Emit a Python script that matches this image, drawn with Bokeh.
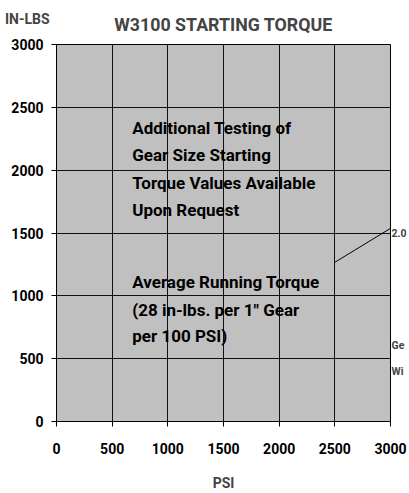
from bokeh.plotting import figure
from bokeh.models import FixedTicker, Range1d, LinearAxis
from bokeh.core.properties import value
from bokeh.embed import file_html
from bokeh.resources import INLINE

# ---- data ----
x_ticks = [0, 500, 1000, 1500, 2000, 2500, 3000]
y_ticks = [0, 500, 1000, 1500, 2000, 2500, 3000]

title_text = "W3100 STARTING TORQUE"
y_unit_text = "IN-LBS"
x_unit_text = "PSI"

note_lines = ["Additional Testing of", "Gear Size Starting", "Torque Values Available",
              "Upon Request", "Average Running Torque", "(28 in-lbs. per 1\" Gear",
              "per 100 PSI)"]
note_x = [680, 680, 680, 680, 680, 680, 680]
note_y = [2334, 2119, 1898, 1684, 1113, 891, 677]

leader_x = [2500, 3000]
leader_y = [1267, 1537]

side_texts = ["2.0", "Ge", "Wi"]
side_y = [1495, 602, 394]

FONT = "Roboto"

p = figure(width=409, height=493, output_backend="svg", toolbar_location=None,
           x_range=Range1d(0, 3000), y_range=Range1d(0, 3000),
           min_border_left=56, min_border_right=18, min_border_top=44, min_border_bottom=70)
p.background_fill_color = "#C0C0C0"
p.border_fill_color = "white"
p.outline_line_color = "black"

for ax in (p.xaxis[0], p.yaxis[0]):
    ax.major_label_text_font = FONT
    ax.major_label_text_font_style = "bold"
    ax.major_label_text_font_size = "14px"
    ax.major_label_text_color = "black"
    ax.axis_line_color = "black"
    ax.major_tick_line_color = "black"
    ax.major_tick_in = 0
    ax.major_tick_out = 5
    ax.minor_tick_line_color = None
p.xaxis.ticker = FixedTicker(ticks=x_ticks)
p.yaxis.ticker = FixedTicker(ticks=y_ticks)
p.xaxis.major_label_standoff = 16
p.yaxis.major_label_standoff = 8
p.xaxis.axis_label = x_unit_text
p.xaxis.axis_label_text_font = FONT
p.xaxis.axis_label_text_font_style = "bold"
p.xaxis.axis_label_text_font_size = "14px"
p.xaxis.axis_label_standoff = 18

# top: unit label (as a tick label) and chart title (as the axis label)
top_ax = LinearAxis(ticker=FixedTicker(ticks=[0]),
                    major_label_overrides={0: y_unit_text + "\u00a0\u00a0"},
                    major_label_orientation=-1e-6)
top_ax.axis_line_color = None
top_ax.major_tick_line_color = None
top_ax.major_tick_out = 0
top_ax.major_tick_in = 0
top_ax.minor_tick_line_color = None
top_ax.major_label_standoff = 25
top_ax.major_label_text_font = FONT
top_ax.major_label_text_font_style = "bold"
top_ax.major_label_text_font_size = "14px"
top_ax.axis_label = title_text
top_ax.axis_label_text_font = FONT
top_ax.axis_label_text_font_style = "bold"
top_ax.axis_label_text_font_size = "17.8px"
top_ax.axis_label_standoff = -35
p.add_layout(top_ax, "above")

# right-side (cut off) notes as a secondary axis's labels
right_ax = LinearAxis(ticker=FixedTicker(ticks=side_y),
                      major_label_overrides={float(v): t for v, t in zip(side_y, side_texts)})
right_ax.axis_line_color = None
right_ax.major_tick_line_color = None
right_ax.major_tick_out = 0
right_ax.major_tick_in = 0
right_ax.minor_tick_line_color = None
right_ax.major_label_standoff = 1
right_ax.major_label_text_font = FONT
right_ax.major_label_text_font_style = "bold"
right_ax.major_label_text_font_size = "10.5px"
p.add_layout(right_ax, "right")

p.xgrid.ticker = FixedTicker(ticks=x_ticks)
p.ygrid.ticker = FixedTicker(ticks=y_ticks)
p.grid.grid_line_color = "#111111"
p.grid.grid_line_width = 1

p.line(leader_x, leader_y, line_color="black", line_width=1)

p.text(x=note_x, y=note_y, text=note_lines, text_font=value(FONT), text_font_style="bold",
       text_font_size="17px", text_color="black", text_baseline="middle", text_align="left")

open("out.html", "w").write(file_html(p, INLINE))
